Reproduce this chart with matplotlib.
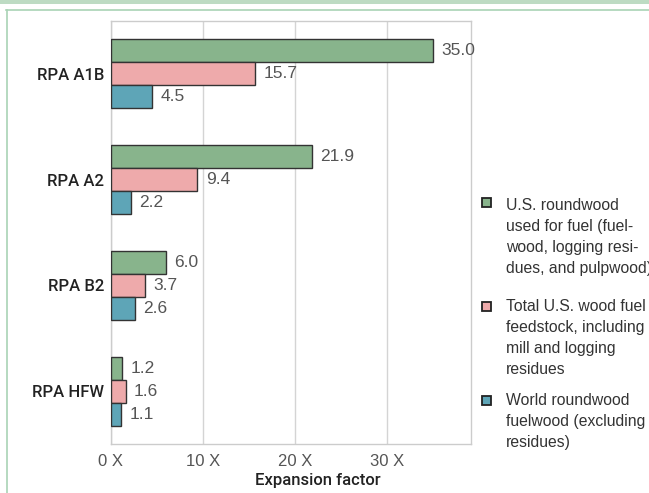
import numpy as np
import matplotlib.pyplot as plt
from matplotlib.patches import Rectangle
from matplotlib.lines import Line2D

scenarios = ['RPA A1B', 'RPA A2', 'RPA B2', 'RPA HFW']
us_roundwood = [35.0, 21.9, 6.0, 1.2]
us_total = [15.7, 9.4, 3.7, 1.6]
world_fuelwood = [4.5, 2.2, 2.6, 1.1]
series_labels = ['U.S. roundwood\nused for fuel (fuel-\nwood, logging resi-\ndues, and pulpwood)',
                 'Total U.S. wood fuel\nfeedstock, including\nmill and logging\nresidues',
                 'World roundwood\nfuelwood (excluding\nresidues)']
xticks = [0, 10, 20, 30]
xtick_labels = ['0 X', '10 X', '20 X', '30 X']

colors = ['#88b48c', '#eeaaab', '#5ea5b7']
font = ['Liberation Sans', 'DejaVu Sans']
W, H = 649, 493

fig = plt.figure(figsize=(6.49, 4.93), dpi=100)
ax = fig.add_axes([111/W, 1 - 444/H, (470.7 - 111)/W, (444 - 21)/H])

y = np.arange(len(scenarios))
h = 0.218
series = [us_roundwood, us_total, world_fuelwood]
for k, vals in enumerate(series):
    bars = ax.barh(y + (k - 1)*h, vals, height=h, color=colors[k],
                   edgecolor='#333333', linewidth=1, zorder=3)
    ax.bar_label(bars, fmt='%.1f', padding=6, color='#555555',
                 fontsize=12.5, family=font)

ax.set_ylim(3.5, -0.5)
ax.set_xlim(0, 39.15)
ax.set_yticks(y)
ax.set_yticklabels(scenarios, fontsize=12, fontweight='medium', color='#222222',
                   family=['Roboto', 'Liberation Sans'])
ax.set_xticks(xticks)
ax.set_xticklabels(xtick_labels, fontsize=12, color='#555555', family=font)
ax.tick_params(axis='y', length=0, pad=5)
ax.tick_params(axis='x', length=0, pad=7)
ax.grid(axis='x', color='#d4d4d4', lw=1, zorder=0)
for sp in ax.spines.values():
    sp.set_color('#cccccc')
    sp.set_linewidth(1)

fig.text(318/W, 1 - 480/H, 'Expansion factor', ha='center', va='center',
         fontsize=12, fontweight='medium', color='#222222',
         family=['Roboto', 'Liberation Sans'])

# legend, drawn by hand so the swatch sits on the first line
swatch_tops = [198, 302, 396]
text_tops = [198, 299, 393]
for k, lab in enumerate(series_labels):
    fig.add_artist(Rectangle((482/W, 1 - (swatch_tops[k] + 9)/H), 9/W, 9/H,
                             facecolor=colors[k], edgecolor='#222222', lw=1.3,
                             transform=fig.transFigure))
    fig.text(506/W, 1 - text_tops[k]/H, lab, ha='left', va='top', fontsize=11.3,
             color='#333333', family=font, linespacing=1.5)

# green frame
fig.add_artist(Rectangle((0, 1 - 3.5/H), 1, 3.5/H, facecolor='#bddbc3',
                         edgecolor='none', transform=fig.transFigure))
fig.add_artist(Line2D([6/W, 1], [1 - 9.5/H, 1 - 9.5/H], color='#a9d3b5', lw=1.2,
                      transform=fig.transFigure))
fig.add_artist(Line2D([6.5/W, 6.5/W], [0, 1 - 9.5/H], color='#a9d3b5', lw=1.2,
                      transform=fig.transFigure))

fig.savefig('out.png', dpi=100)
